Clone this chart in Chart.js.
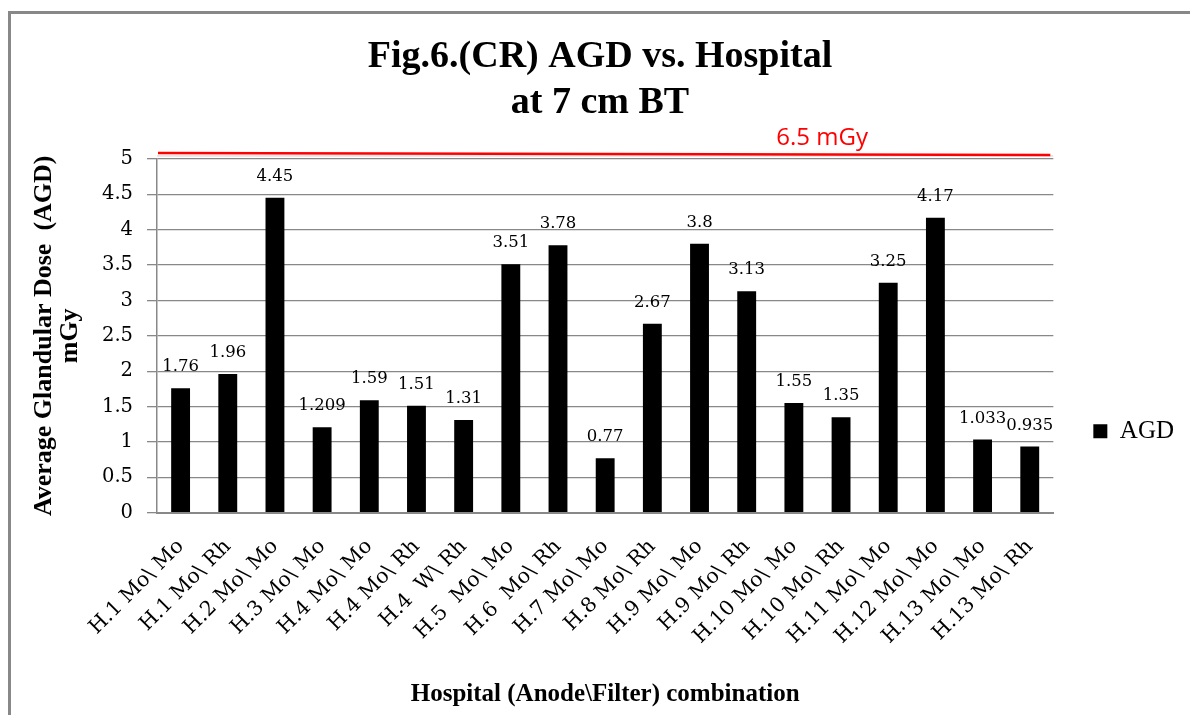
<!DOCTYPE html>
<html>
<head>
<meta charset="utf-8">
<script src="https://cdn.jsdelivr.net/npm/chart.js@4/dist/chart.umd.min.js"></script>
<style>
  html, body { margin: 0; padding: 0; background: #fff; }
  #frame {
    position: absolute; left: 8px; top: 11px; width: 1182px; height: 704px;
    border-left: 3px solid #888; border-top: 3px solid #888; box-sizing: border-box;
  }
  #wrap { position: absolute; left: 0; top: 0; width: 1190px; height: 715px; }
</style>
</head>
<body>
<div id="frame"></div>
<div id="wrap"><canvas id="agdChart"></canvas></div>
<script>
const hospitals = [
    'H.1 Mo\\ Mo', 'H.1 Mo\\ Rh', 'H.2 Mo\\ Mo', 'H.3 Mo\\ Mo', 'H.4 Mo\\ Mo',
    'H.4 Mo\\ Rh', 'H.4  W\\ Rh', 'H.5  Mo\\ Mo', 'H.6  Mo\\ Rh', 'H.7 Mo\\ Mo',
    'H.8 Mo\\ Rh', 'H.9 Mo\\ Mo', 'H.9 Mo\\ Rh', 'H.10 Mo\\ Mo', 'H.10 Mo\\ Rh',
    'H.11 Mo\\ Mo', 'H.12 Mo\\ Mo', 'H.13 Mo\\ Mo', 'H.13 Mo\\ Rh',
];
const agd = [1.76, 1.96, 4.45, 1.209, 1.59, 1.51, 1.31, 3.51, 3.78, 0.77,
    2.67, 3.8, 3.13, 1.55, 1.35, 3.25, 4.17, 1.033, 0.935];
const yTicks = [0, 0.5, 1, 1.5, 2, 2.5, 3, 3.5, 4, 4.5, 5];
const limitLabel = '6.5 mGy';

const serif = '"Liberation Serif", "DejaVu Serif", serif';
const wideSerif = '"DejaVu Serif", serif';

// value labels above each bar
const barLabels = {
    id: 'barLabels',
    afterDatasetsDraw(chart) {
        const ctx = chart.ctx;
        const meta = chart.getDatasetMeta(0);
        ctx.save();
        ctx.font = '16.5px ' + wideSerif;
        ctx.fillStyle = '#000';
        ctx.textAlign = 'center';
        ctx.textBaseline = 'alphabetic';
        meta.data.forEach((bar, i) => {
            ctx.fillText(String(agd[i]), bar.x, bar.y - 17);
        });
        ctx.restore();
    },
};

// red dose-limit line drawn at the broken top of the axis
const limitLine = {
    id: 'limitLine',
    afterDraw(chart) {
        const { ctx, chartArea } = chart;
        const y = chartArea.top - 6;
        ctx.save();
        ctx.strokeStyle = '#d0d0d0';
        ctx.lineWidth = 1;
        ctx.beginPath();
        ctx.moveTo(chartArea.left, y + 3);
        ctx.lineTo(chartArea.right, y + 3);
        ctx.stroke();
        ctx.strokeStyle = '#ff0000';
        ctx.lineWidth = 2.5;
        ctx.beginPath();
        ctx.moveTo(chartArea.left + 1, y);
        ctx.lineTo(chartArea.right - 3, y + 2);
        ctx.stroke();
        ctx.font = '24px "Open Sans", "Liberation Sans", sans-serif';
        ctx.fillStyle = '#ff0000';
        ctx.textAlign = 'center';
        ctx.fillText(limitLabel, chartArea.left + 0.742 * (chartArea.right - chartArea.left), y - 8);
        ctx.restore();
    },
};

new Chart(document.getElementById('agdChart'), {
    type: 'bar',
    data: {
        labels: hospitals,
        datasets: [{
            label: 'AGD',
            data: agd,
            backgroundColor: '#000',
            barPercentage: 0.4,
            categoryPercentage: 1,
        }],
    },
    options: {
        responsive: true,
        maintainAspectRatio: false,
        animation: false,
        layout: { padding: { left: 16, right: 6, top: 0, bottom: 5 } },
        scales: {
            x: {
                grid: { display: false },
                border: { display: true, color: '#888', width: 2 },
                ticks: {
                    color: '#000',
                    font: { family: wideSerif, size: 20.5 },
                    minRotation: 45,
                    maxRotation: 45,
                    autoSkip: false,
                    padding: 14,
                },
                title: {
                    display: true,
                    text: 'Hospital (Anode\\Filter) combination',
                    color: '#000',
                    font: { family: serif, size: 25, weight: 'bold' },
                    padding: { top: 17, bottom: 0 },
                },
            },
            y: {
                min: 0,
                max: 5,
                afterBuildTicks(axis) {
                    axis.ticks = yTicks.map(v => ({ value: v }));
                },
                grid: { color: '#888', lineWidth: 1.3, tickLength: 10 },
                border: { display: true, color: '#888', width: 1.5 },
                ticks: {
                    color: '#000',
                    font: { family: wideSerif, size: 19.5 },
                    padding: 14,
                    callback: v => String(v),
                },
                title: {
                    display: true,
                    text: ['Average Glandular Dose  (AGD)', 'mGy'],
                    color: '#000',
                    font: { family: serif, size: 26, weight: 'bold', lineHeight: 1.0 },
                    padding: { top: 15, bottom: 5 },
                },
            },
        },
        plugins: {
            title: {
                display: true,
                text: ['Fig.6.(CR) AGD vs. Hospital', 'at 7 cm BT'],
                color: '#000',
                font: { family: serif, size: 38, weight: 'bold', lineHeight: 1.21 },
                padding: { top: 34, bottom: 33 },
            },
            legend: {
                position: 'right',
                title: {
                    display: true,
                    text: '',
                    font: { size: 12, lineHeight: 1.2 },
                    padding: { top: 138, bottom: 0 },
                },
                labels: {
                    color: '#000',
                    font: { family: serif, size: 25 },
                    boxWidth: 14,
                    boxHeight: 14,
                    padding: 40,
                },
            },
            tooltip: { enabled: false },
        },
    },
    plugins: [barLabels, limitLine],
});
</script>
</body>
</html>
